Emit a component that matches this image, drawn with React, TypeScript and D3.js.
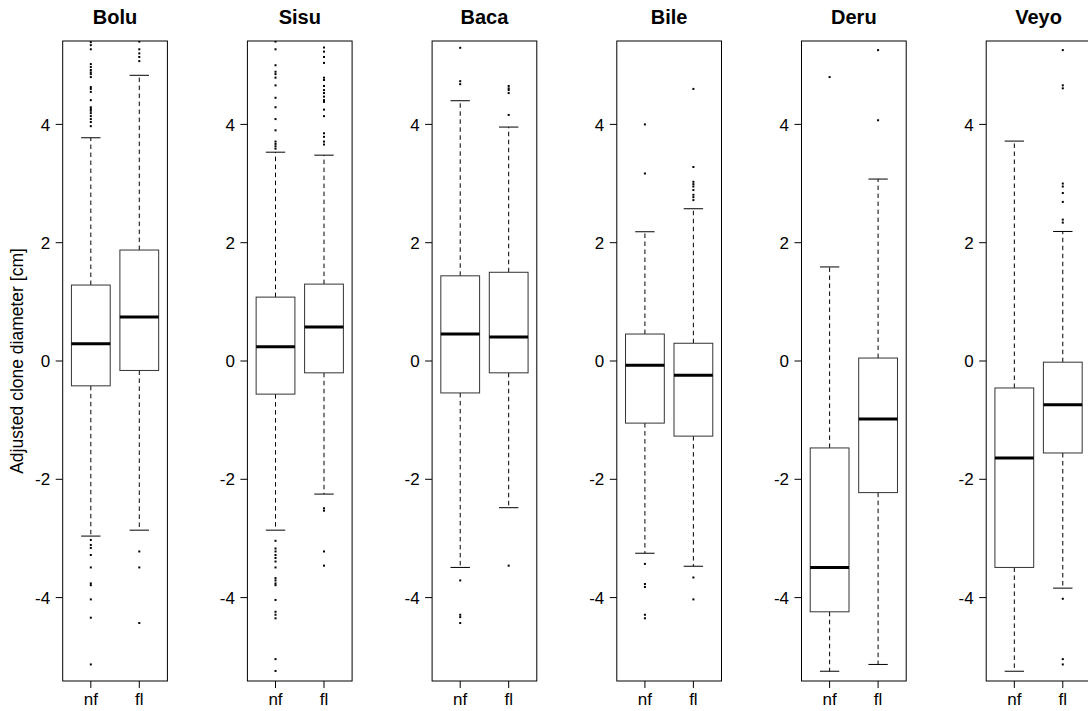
import React from "react";
import * as d3 from "d3";

const sites = ["Bolu", "Sisu", "Baca", "Bile", "Deru", "Veyo"];
const groups = ["nf", "fl"];
const yTicks = [-4, -2, 0, 2, 4];

// [nf, fl] per site
const lowerWhisker = [[-2.96, -2.86], [-2.86, -2.25], [-3.49, -2.48], [-3.25, -3.47], [-5.245, -5.13], [-5.245, -3.84]];
const q1 = [[-0.42, -0.16], [-0.56, -0.2], [-0.54, -0.2], [-1.05, -1.27], [-4.24, -2.225], [-3.49, -1.555]];
const medians = [[0.29, 0.744], [0.24, 0.575], [0.456, 0.405], [-0.07, -0.24], [-3.49, -0.98], [-1.64, -0.74]];
const q3 = [[1.284, 1.876], [1.08, 1.3], [1.44, 1.5], [0.456, 0.3], [-1.47, 0.05], [-0.456, -0.02]];
const upperWhisker = [[3.774, 4.83], [3.53, 3.48], [4.4, 3.955], [2.185, 2.574], [1.59, 3.076], [3.718, 2.19]];

const outliersNf = [
  [5.39, 5.34, 5.27, 5.02, 4.97, 4.92, 4.88, 4.85, 4.8, 4.63, 4.6, 4.55, 4.41, 4.29, 4.26, 4.23, 4.19, 4.14, 4.09, 4.04, 3.97,
    -3.025, -3.11, -3.16, -3.28, -3.49, -3.76, -3.79, -4.03, -4.34, -5.13],
  [5.4, 5.27, 5.0, 4.89, 4.85, 4.79, 4.66, 4.45, 4.29, 4.09, 3.9, 3.71, 3.67, 3.63, 3.59,
    -3.04, -3.17, -3.22, -3.28, -3.33, -3.39, -3.49, -3.67, -3.71, -3.76, -3.79, -4.04, -4.24, -4.29, -4.35, -5.04, -5.24],
  [5.295, 4.73, 4.68, -3.71, -4.29, -4.33, -4.43],
  [4.0, 3.17, -3.43, -3.77, -3.82, -4.29, -4.35],
  [4.8],
  [],
];
const outliersFl = [
  [5.4, 5.27, 5.2, 5.14, 5.07, -3.22, -3.49, -4.43],
  [5.3, 5.23, 5.14, 5.04, 4.79, 4.75, 4.65, 4.58, 4.53, 4.47, 4.41, 4.38, 4.25, 4.14, 3.85, 3.79, 3.71, 3.66,
    -2.49, -2.53, -3.22, -3.46],
  [4.65, 4.61, 4.58, 4.53, 4.16, -3.46],
  [4.6, 3.28, 3.03, 2.99, 2.95, 2.89, 2.81, 2.77, 2.72, -3.66, -4.03],
  [5.256, 4.07],
  [5.256, 4.66, 4.61, 3.0, 2.95, 2.84, 2.69, 2.39, 2.34, -4.02, -5.04, -5.13],
];

const W = 1088;
const H = 711;
const TOP = 41;
const BOTTOM = 681;
const FIRST_LEFT = 62.7;
const STEP = 184.7;
const PW = 104.7;
const FONT = "'Liberation Sans', Arial, Helvetica, sans-serif";

export default function App() {
  const y = d3.scaleLinear().domain([-5.41, 5.41]).range([BOTTOM, TOP]);
  return (
    <svg width={W} height={H} style={{ position: "absolute", left: 0, top: 0, background: "#fff" }} fontFamily={FONT}>
      <defs>
        {sites.map((s, i) => (
          <clipPath id={`clip${i}`} key={s}>
            <rect x={FIRST_LEFT + i * STEP} y={TOP} width={PW} height={BOTTOM - TOP} />
          </clipPath>
        ))}
      </defs>
      <text
        transform={`translate(23,${(TOP + BOTTOM) / 2}) rotate(-90)`}
        textAnchor="middle"
        fontSize={17.5}
        fill="#000"
      >
        Adjusted clone diameter [cm]
      </text>
      {sites.map((site, i) => {
        const left = FIRST_LEFT + i * STEP;
        const x = d3.scaleLinear().domain([0.42, 2.58]).range([left, left + PW]);
        const unit = x(1) - x(0);
        const bw = 0.8 * unit;
        const cw = 0.4 * unit;
        return (
          <g key={site}>
            <text x={left + PW / 2} y={24} textAnchor="middle" fontSize={20} fontWeight="bold">
              {site}
            </text>
            {yTicks.map((t) => (
              <g key={t}>
                <line x1={left - 7} x2={left} y1={y(t)} y2={y(t)} stroke="#000" strokeWidth={1} />
                <text x={left - 12.5} y={y(t)} dy="0.36em" textAnchor="end" fontSize={17}>
                  {t}
                </text>
              </g>
            ))}
            {groups.map((g, j) => {
              const cx = x(j + 1);
              const pts = j === 0 ? outliersNf[i] : outliersFl[i];
              return (
                <g key={g}>
                  <line x1={cx} x2={cx} y1={BOTTOM} y2={BOTTOM + 7} stroke="#000" strokeWidth={1} />
                  <text x={cx} y={705} textAnchor="middle" fontSize={17}>
                    {g}
                  </text>
                  <line x1={cx} x2={cx} y1={y(q3[i][j])} y2={y(upperWhisker[i][j])} stroke="#000" strokeWidth={1} strokeDasharray="4.5,3.5" />
                  <line x1={cx} x2={cx} y1={y(q1[i][j])} y2={y(lowerWhisker[i][j])} stroke="#000" strokeWidth={1} strokeDasharray="4.5,3.5" />
                  <line x1={cx - cw / 2} x2={cx + cw / 2} y1={y(upperWhisker[i][j])} y2={y(upperWhisker[i][j])} stroke="#000" strokeWidth={1} />
                  <line x1={cx - cw / 2} x2={cx + cw / 2} y1={y(lowerWhisker[i][j])} y2={y(lowerWhisker[i][j])} stroke="#000" strokeWidth={1} />
                  <rect
                    x={cx - bw / 2}
                    y={y(q3[i][j])}
                    width={bw}
                    height={y(q1[i][j]) - y(q3[i][j])}
                    fill="#fff"
                    stroke="#333"
                    strokeWidth={1}
                  />
                  <line x1={cx - bw / 2} x2={cx + bw / 2} y1={y(medians[i][j])} y2={y(medians[i][j])} stroke="#000" strokeWidth={3} />
                  <g clipPath={`url(#clip${i})`}>
                    {pts.map((v, k) => (
                      <rect key={k} x={cx - 1} y={y(v) - 1} width={2} height={2} fill="#000" />
                    ))}
                  </g>
                </g>
              );
            })}
            <rect x={left} y={TOP} width={PW} height={BOTTOM - TOP} fill="none" stroke="#000" strokeWidth={1} />
          </g>
        );
      })}
    </svg>
  );
}
